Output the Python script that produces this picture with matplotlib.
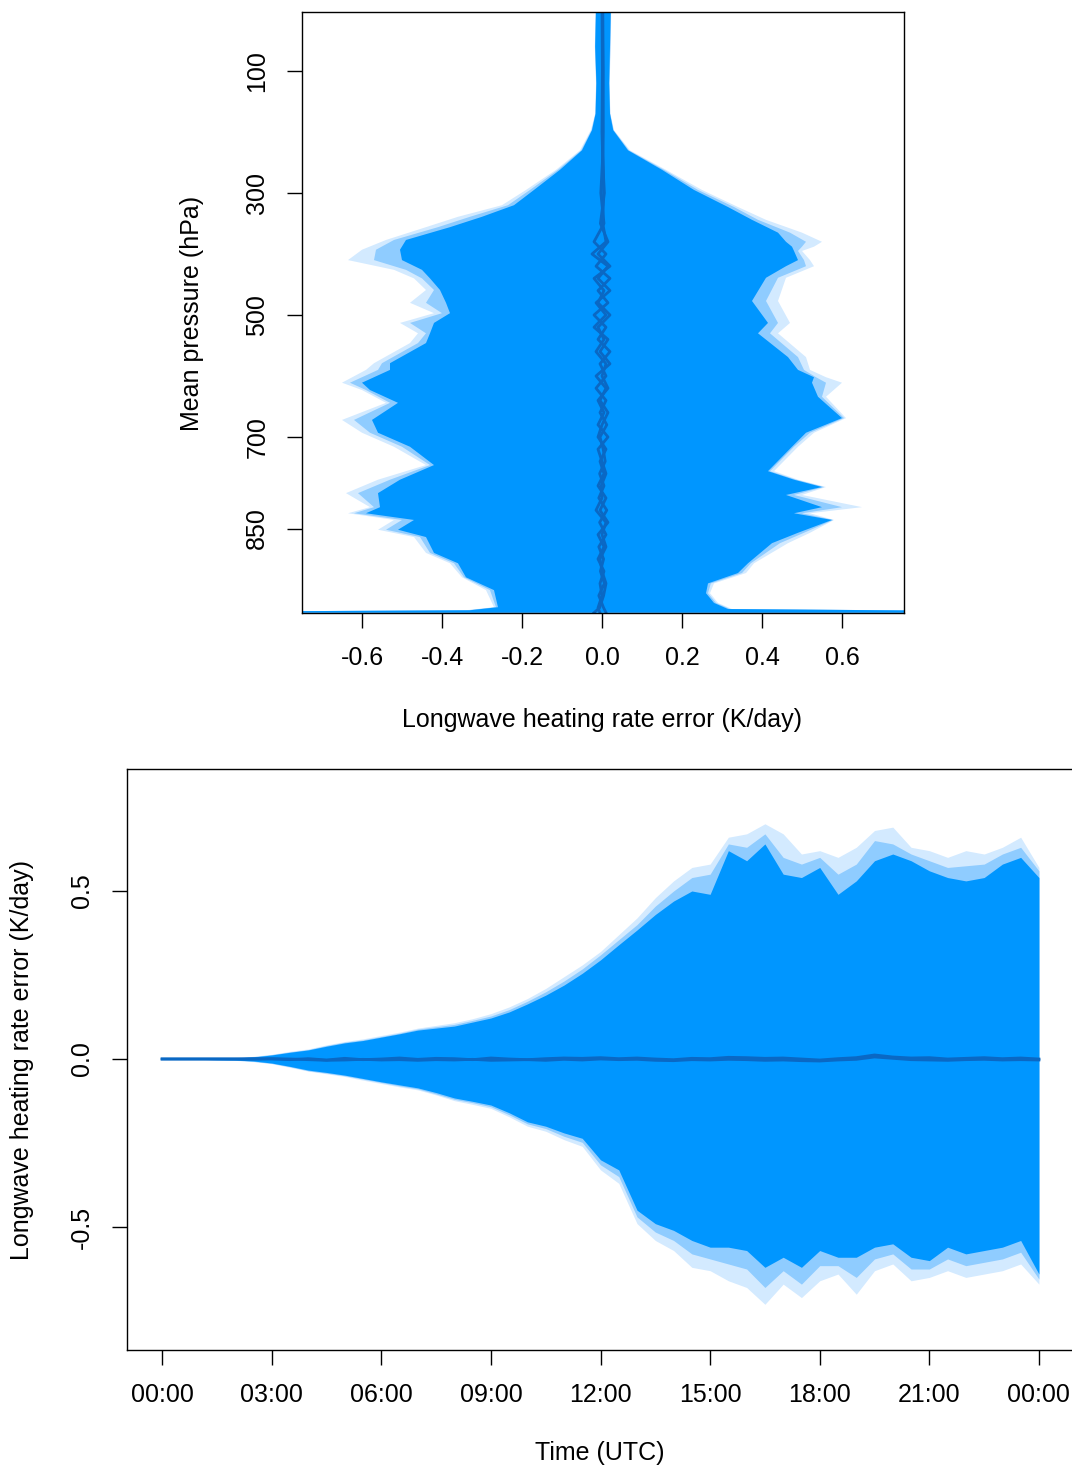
import matplotlib
matplotlib.use("Agg")
import matplotlib.pyplot as plt

plt.rcParams['font.family'] = ['Liberation Sans', 'DejaVu Sans']

# ---- profile panel: envelope of heating rate error vs pressure ----
p_left = [1, 60, 120, 170, 197, 230, 262, 295, 320, 339, 356, 377, 393, 410, 426, 440,
          459, 480, 497, 513, 530, 546, 579, 590, 611, 623, 644, 672, 693, 716, 746, 770,
          792, 815, 825, 836, 852, 864, 890, 907, 930, 951, 979, 984, 988]
core_left = [-0.015, -0.017, -0.014, -0.016, -0.025, -0.05, -0.105, -0.17, -0.22, -0.30, -0.38,
             -0.49, -0.505, -0.50, -0.45, -0.43, -0.405, -0.39, -0.38, -0.42, -0.43, -0.44,
             -0.53, -0.53, -0.60, -0.58, -0.51, -0.575, -0.56, -0.48, -0.42, -0.505, -0.56,
             -0.555, -0.59, -0.47, -0.51, -0.44, -0.42, -0.36, -0.34, -0.27, -0.26, -0.33, -1.5]
mid_left = [-0.0155, -0.0175, -0.0145, -0.0165, -0.026, -0.052, -0.11, -0.18, -0.235, -0.33, -0.41,
            -0.52, -0.565, -0.57, -0.49, -0.45, -0.42, -0.44, -0.40, -0.48, -0.44, -0.46,
            -0.55, -0.56, -0.63, -0.59, -0.53, -0.62, -0.58, -0.50, -0.43, -0.53, -0.61,
            -0.57, -0.62, -0.50, -0.54, -0.455, -0.43, -0.37, -0.345, -0.28, -0.265, -0.335, -1.5]
out_left = [-0.016, -0.018, -0.015, -0.017, -0.028, -0.055, -0.115, -0.19, -0.25, -0.36, -0.44,
            -0.54, -0.60, -0.635, -0.52, -0.47, -0.44, -0.48, -0.42, -0.505, -0.46, -0.48,
            -0.57, -0.59, -0.65, -0.60, -0.54, -0.65, -0.60, -0.52, -0.44, -0.56, -0.64,
            -0.58, -0.635, -0.52, -0.56, -0.47, -0.44, -0.38, -0.35, -0.29, -0.27, -0.34, -1.5]

p_right = [1, 60, 120, 170, 197, 230, 262, 295, 323, 344, 365, 380, 388, 395, 410, 420, 439,
           477, 513, 530, 569, 590, 602, 611, 634, 669, 693, 716, 756, 770, 782, 795, 815,
           825, 836, 857, 874, 907, 923, 940, 956, 972, 982, 988]
core_right = [0.022, 0.02, 0.018, 0.02, 0.028, 0.065, 0.15, 0.23, 0.315, 0.375, 0.44, 0.46, 0.475,
              0.48, 0.49, 0.46, 0.41, 0.375, 0.415, 0.39, 0.465, 0.49, 0.53, 0.525, 0.54, 0.60,
              0.51, 0.475, 0.415, 0.48, 0.55, 0.46, 0.55, 0.48, 0.575, 0.49, 0.425, 0.365, 0.34,
              0.265, 0.26, 0.28, 0.315, 1.5]
mid_right = [0.0225, 0.021, 0.0185, 0.0205, 0.029, 0.067, 0.155, 0.24, 0.33, 0.39, 0.47, 0.51, 0.50,
             0.49, 0.505, 0.51, 0.44, 0.41, 0.44, 0.42, 0.49, 0.505, 0.535, 0.56, 0.55, 0.605,
             0.52, 0.48, 0.42, 0.485, 0.555, 0.48, 0.60, 0.50, 0.578, 0.505, 0.445, 0.372, 0.35,
             0.272, 0.265, 0.285, 0.32, 1.5]
out_right = [0.023, 0.022, 0.019, 0.021, 0.03, 0.07, 0.16, 0.25, 0.34, 0.41, 0.50, 0.55, 0.53,
             0.50, 0.52, 0.53, 0.46, 0.44, 0.47, 0.44, 0.51, 0.52, 0.56, 0.60, 0.56, 0.61,
             0.53, 0.49, 0.43, 0.49, 0.56, 0.50, 0.65, 0.52, 0.58, 0.52, 0.465, 0.38, 0.36,
             0.28, 0.27, 0.29, 0.325, 1.5]

p_mean = [1, 100, 200, 250, 300, 350, 380, 400, 420, 440, 460, 480, 500, 520, 540, 560, 580, 600,
          620, 640, 660, 680, 700, 720, 740, 760, 780, 800, 820, 840, 860, 880, 900, 920, 940,
          960, 980, 988]
prof_means = [
    [0.002, 0.003, 0.002, 0.003, 0.004, 0.002, 0.01, -0.025, 0.015, -0.01, 0.02, -0.015, 0.01,
     -0.02, 0.015, -0.005, 0.02, -0.015, 0.01, -0.005, 0.015, 0.0, -0.01, 0.01, -0.005, 0.005,
     -0.01, 0.01, -0.005, 0.015, -0.01, 0.005, -0.01, 0.005, -0.005, 0.0, -0.01, -0.005],
    [0.001, 0.002, 0.003, 0.001, -0.003, 0.005, -0.02, 0.01, -0.015, 0.02, -0.01, 0.015, -0.02,
     0.01, -0.01, 0.02, -0.005, 0.01, -0.015, 0.01, -0.005, 0.012, -0.005, 0.003, 0.008, -0.006,
     0.005, -0.008, 0.012, -0.006, 0.01, -0.008, 0.004, -0.004, 0.006, -0.008, 0.004, 0.01],
    [0.0, 0.001, 0.0, 0.002, 0.006, -0.004, 0.015, -0.01, 0.02, -0.02, 0.005, -0.01, 0.02, -0.01,
     0.005, -0.015, 0.01, 0.0, 0.015, -0.01, 0.005, -0.01, 0.015, -0.01, 0.0, 0.01, -0.002, 0.0,
     -0.015, 0.01, 0.0, 0.01, -0.005, 0.0, 0.01, 0.004, -0.006, -0.02],
]

# ---- time series panel ----
hours = [i * 0.5 for i in range(49)]
up_core = [0, 0, 0.001, 0.002, 0.003, 0.006, 0.012, 0.02, 0.027, 0.038, 0.048, 0.055, 0.065,
           0.075, 0.086, 0.092, 0.098, 0.11, 0.122, 0.14, 0.164, 0.19, 0.22, 0.255, 0.295, 0.34,
           0.384, 0.43, 0.47, 0.50, 0.49, 0.62, 0.59, 0.64, 0.55, 0.54, 0.57, 0.49, 0.53, 0.59,
           0.61, 0.59, 0.56, 0.54, 0.53, 0.54, 0.58, 0.60, 0.54]
up_mid = [0, 0, 0.001, 0.002, 0.003, 0.007, 0.013, 0.021, 0.028, 0.04, 0.05, 0.057, 0.067,
          0.077, 0.089, 0.096, 0.103, 0.115, 0.128, 0.147, 0.172, 0.2, 0.232, 0.268, 0.31, 0.355,
          0.40, 0.455, 0.50, 0.54, 0.55, 0.64, 0.63, 0.67, 0.60, 0.58, 0.60, 0.55, 0.58, 0.65,
          0.64, 0.61, 0.59, 0.57, 0.575, 0.58, 0.61, 0.63, 0.56]
up_out = [0, 0, 0.001, 0.003, 0.004, 0.008, 0.014, 0.023, 0.03, 0.042, 0.052, 0.06, 0.07,
          0.08, 0.092, 0.1, 0.108, 0.12, 0.135, 0.155, 0.18, 0.21, 0.245, 0.28, 0.32, 0.37,
          0.42, 0.48, 0.53, 0.57, 0.58, 0.66, 0.67, 0.70, 0.67, 0.61, 0.62, 0.60, 0.63, 0.68,
          0.69, 0.63, 0.62, 0.60, 0.62, 0.61, 0.63, 0.66, 0.57]
lo_core = [0, 0, -0.001, -0.002, -0.003, -0.006, -0.012, -0.022, -0.033, -0.04, -0.048, -0.058,
           -0.068, -0.077, -0.086, -0.10, -0.116, -0.126, -0.137, -0.16, -0.187, -0.20, -0.22,
           -0.236, -0.30, -0.33, -0.45, -0.49, -0.51, -0.54, -0.56, -0.56, -0.57, -0.62, -0.59,
           -0.62, -0.57, -0.59, -0.59, -0.56, -0.55, -0.59, -0.60, -0.56, -0.58, -0.57, -0.56,
           -0.54, -0.64]
lo_mid = [0, 0, -0.001, -0.0025, -0.0035, -0.007, -0.013, -0.023, -0.035, -0.042, -0.05, -0.06,
          -0.07, -0.08, -0.089, -0.104, -0.12, -0.13, -0.142, -0.166, -0.193, -0.207, -0.23,
          -0.248, -0.315, -0.35, -0.47, -0.515, -0.54, -0.58, -0.595, -0.61, -0.625, -0.68,
          -0.63, -0.67, -0.615, -0.615, -0.65, -0.595, -0.58, -0.625, -0.625, -0.595, -0.615,
          -0.605, -0.595, -0.575, -0.655]
lo_out = [0, 0, -0.001, -0.003, -0.004, -0.008, -0.014, -0.025, -0.036, -0.044, -0.052, -0.063,
          -0.073, -0.083, -0.092, -0.107, -0.124, -0.135, -0.147, -0.172, -0.2, -0.215, -0.24,
          -0.26, -0.33, -0.37, -0.49, -0.54, -0.57, -0.62, -0.63, -0.66, -0.68, -0.73, -0.67,
          -0.71, -0.66, -0.64, -0.70, -0.63, -0.61, -0.66, -0.65, -0.63, -0.65, -0.64, -0.63,
          -0.61, -0.67]
ts_means = [
    [0, 0, 0, 0, 0, 0.001, 0, -0.002, 0.001, -0.003, 0.002, -0.002, 0, 0.003, -0.001, 0.002,
     0.001, -0.002, 0.003, 0.0, -0.002, 0.001, 0.003, 0.002, 0.004, 0.001, 0.003, 0.0, -0.002,
     0.002, 0.001, 0.005, 0.004, 0.002, 0.003, 0.0, -0.003, 0.001, 0.004, 0.012, 0.006, 0.003,
     0.004, 0.0, 0.002, 0.004, 0.001, 0.003, 0.0],
    [0, 0, 0, 0, 0, -0.001, 0.001, 0, -0.002, -0.004, -0.003, -0.001, -0.003, -0.002, -0.004,
     -0.002, -0.003, -0.001, -0.004, -0.003, -0.002, -0.004, -0.001, -0.003, 0.0, -0.002,
     -0.001, -0.004, -0.005, -0.002, -0.003, -0.001, -0.002, -0.004, -0.003, -0.005, -0.006,
     -0.003, -0.001, 0.006, 0.002, -0.002, -0.003, -0.004, -0.002, -0.001, -0.003, -0.002, -0.003],
]

time_ticks = [0, 3, 6, 9, 12, 15, 18, 21, 24]
time_labels = ['00:00', '03:00', '06:00', '09:00', '12:00', '15:00', '18:00', '21:00', '00:00']

c_out, c_mid, c_core, c_line = '#d3eaff', '#8fccff', '#0096ff', '#0a68c4'
fs = 18

fig = plt.figure(figsize=(10.72, 14.68), dpi=100)
W, H = 1072, 1468

# top panel
ax1 = fig.add_axes([302 / W, 1 - 613 / H, (904 - 302) / W, (613 - 12) / H])
for left, right, col in [(out_left, out_right, c_out), (mid_left, mid_right, c_mid),
                         (core_left, core_right, c_core)]:
    xs = left + right[::-1]
    ys = p_left + p_right[::-1]
    ax1.fill(xs, ys, color=col, lw=0)
for m in prof_means:
    ax1.plot(m, p_mean, color=c_line, lw=2)
ax1.set_xlim(-0.75, 0.755)
ax1.set_ylim(988.5, 3.3)
ax1.set_xticks([-0.6, -0.4, -0.2, 0.0, 0.2, 0.4, 0.6])
ax1.set_xticklabels(['-0.6', '-0.4', '-0.2', '0.0', '0.2', '0.4', '0.6'])
ax1.set_yticks([100, 300, 500, 700, 850])
ax1.set_yticklabels(['100', '300', '500', '700', '850'], rotation=90, va='center')

# bottom panel
ax2 = fig.add_axes([127 / W, 1 - 1350 / H, (1074 - 127) / W, (1350 - 769) / H])
ax2.fill_between(hours, lo_out, up_out, color=c_out, lw=0)
ax2.fill_between(hours, lo_mid, up_mid, color=c_mid, lw=0)
ax2.fill_between(hours, lo_core, up_core, color=c_core, lw=0)
for m in ts_means:
    ax2.plot(hours, m, color=c_line, lw=2)
ax2.set_xlim(-0.96, 24.96)
ax2.set_ylim(-0.866, 0.863)
ax2.set_xticks(time_ticks)
ax2.set_xticklabels(time_labels)
ax2.set_yticks([-0.5, 0.0, 0.5])
ax2.set_yticklabels(['-0.5', '0.0', '0.5'], rotation=90, va='center')

for ax in (ax1, ax2):
    for s in ax.spines.values():
        s.set_linewidth(1.0)
    ax.tick_params(direction='out', length=10.5, width=1.0, labelsize=fs, pad=13)

fig.text(602 / W, 1 - 720 / H, 'Longwave heating rate error (K/day)', fontsize=fs,
         ha='center', va='center')
fig.text(192 / W, 1 - 313 / H, 'Mean pressure (hPa)', fontsize=fs, ha='center',
         va='center', rotation=90)
fig.text(600 / W, 1 - 1453 / H, 'Time (UTC)', fontsize=fs, ha='center', va='center')
fig.text(22 / W, 1 - 1060 / H, 'Longwave heating rate error (K/day)', fontsize=fs,
         ha='center', va='center', rotation=90)

fig.savefig('out.png', dpi=100)
